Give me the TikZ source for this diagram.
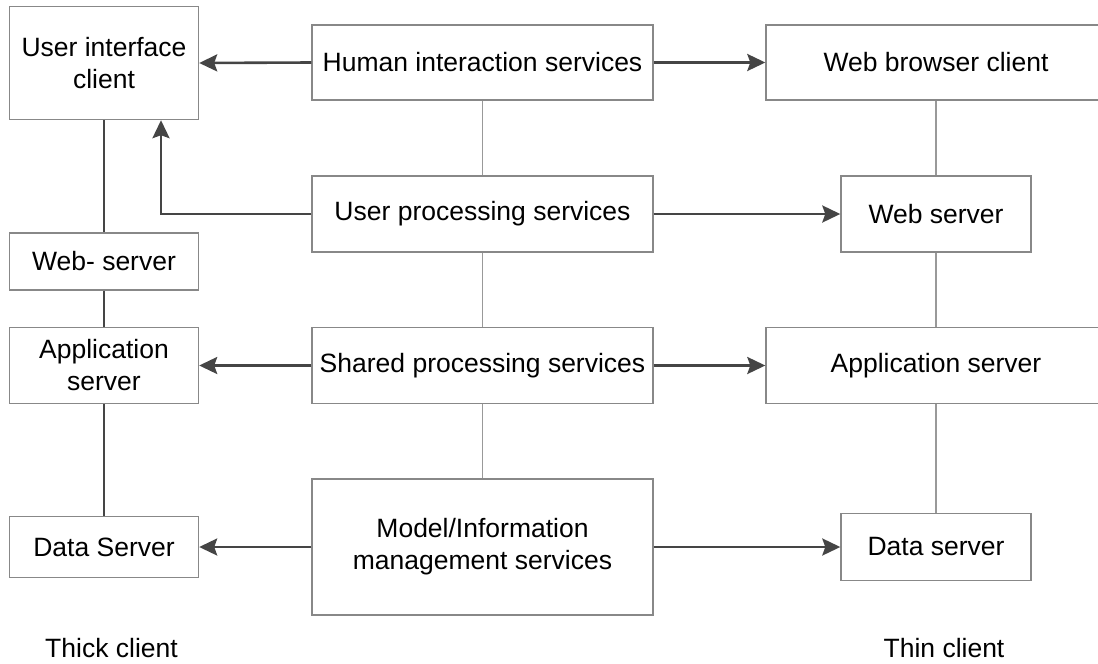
\documentclass[tikz,border=0pt]{standalone}
\usepackage{fontspec}
\setmainfont{Liberation Sans}
\usetikzlibrary{arrows.meta}
\definecolor{boxline}{HTML}{888888}
\definecolor{link}{HTML}{454545}
\definecolor{thinlink}{HTML}{999999}
\begin{document}
\begin{tikzpicture}[x=1pt,y=-1pt,
  txt/.style={font=\fontsize{26.5}{32}\selectfont, text=black, align=center},
  box/.style={txt, draw=boxline, line width=1.4pt, rectangle, inner sep=0pt},
  flow/.style={draw=link, line width=2.6pt, -{Stealth[length=18pt,width=17pt,inset=3pt]}},
  tier/.style={draw=link, line width=2.6pt},
  service/.style={draw=thinlink, line width=1.3pt}]
\useasboundingbox (0,0) rectangle (1098,664);
\clip (0,0) rectangle (1098,664);

% thick-client column
\node[box, minimum width=189pt, minimum height=113pt] (ui)  at (104,63)    {User interface\\client};
\node[box, minimum width=189pt, minimum height=57pt]  (wsl) at (104,261.5) {Web- server};
\node[box, minimum width=189pt, minimum height=76pt]  (apl) at (104,365.5) {Application\\server};
\node[box, minimum width=189pt, minimum height=61pt]  (dsl) at (104,547)   {Data Server};

% service layers
\node[box, minimum width=341pt, minimum height=75pt]  (his)  at (482.5,62.5)  {Human interaction services};
\node[box, minimum width=341pt, minimum height=76pt]  (ups)  at (482.5,214)   {User processing services};
\node[box, minimum width=341pt, minimum height=76pt]  (sps)  at (482.5,365.5) {Shared processing services};
\node[box, minimum width=341pt, minimum height=136pt] (mims) at (482.5,547)   {Model/Information\\management services};

% thin-client column
\node[box, minimum width=340pt, minimum height=75pt] (wbc) at (936,62.5)  {Web browser client};
\node[box, minimum width=190pt, minimum height=76pt] (wsr) at (936,214)   {Web server};
\node[box, minimum width=340pt, minimum height=76pt] (apr) at (936,365.5) {Application server};
\node[box, minimum width=190pt, minimum height=67pt] (dsr) at (936,547)   {Data server};

% column captions
\node[txt] (thick) at (111.5,648) {Thick client};
\node[txt] (thin)  at (944,648)   {Thin client};

% vertical links
\draw[tier] (ui.south) -- (wsl.north);
\draw[tier] (wsl.south) -- (apl.north);
\draw[tier] (apl.south) -- (dsl.north);
\draw[service] (his.south) -- (ups.north);
\draw[service] (ups.south) -- (sps.north);
\draw[service] (sps.south) -- (mims.north);
\draw[service] (wbc.south) -- (wsr.north);
\draw[service] (wsr.south) -- (apr.north);
\draw[service] (apr.south) -- (dsr.north);

% horizontal flows
\draw[flow] (his.west) -- (ui.east);
\draw[flow] (his.east) -- (wbc.west);
\draw[flow] (ups.west) -| ([xshift=57pt]ui.south);
\draw[flow] (ups.east) -- (wsr.west);
\draw[flow] (sps.west) -- (apl.east);
\draw[flow] (sps.east) -- (apr.west);
\draw[flow] (mims.west) -- (dsl.east);
\draw[flow] (mims.east) -- (dsr.west);
\end{tikzpicture}
\end{document}
